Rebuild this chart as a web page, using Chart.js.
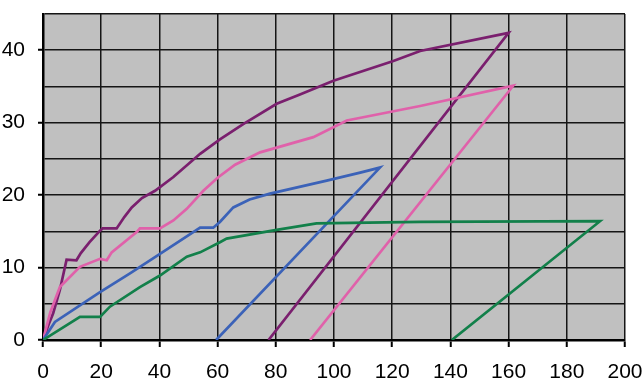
<!DOCTYPE html>
<html>
<head>
<meta charset="utf-8">
<script src="https://cdn.jsdelivr.net/npm/chart.js@4/dist/chart.umd.min.js"></script>
<style>
html,body{margin:0;padding:0;background:#fff;overflow:hidden;}
#wrap{width:643px;height:389px;}
</style>
</head>
<body>
<div id="wrap"><canvas id="c" width="643" height="389"></canvas></div>
<script>
const xTicks = [0, 20, 40, 60, 80, 100, 120, 140, 160, 180, 200];
const yTicks = [0, 10, 20, 30, 40];

const purpleX = [0, 2, 3.5, 5.8, 8.1, 11.5, 13, 16, 19.6, 20.5, 25.3, 28, 30.5, 34, 38.5, 44.8, 54, 60.8, 68.8, 80.3, 88.3, 99.8, 120.4, 129.6, 160, 77.5];
const purpleY = [0, 2.2, 3.7, 6.9, 11.1, 11, 12, 13.5, 15.1, 15.4, 15.4, 17, 18.3, 19.6, 20.6, 22.5, 25.7, 27.7, 29.8, 32.6, 33.9, 35.8, 38.5, 39.9, 42.4, 0];

const pinkX = [0, 2.5, 5.8, 12.7, 19.6, 21.9, 23.6, 32.2, 33.3, 40.2, 44.8, 49.4, 55.1, 60, 66, 74.6, 92.9, 104.4, 129.6, 161.6, 91.8];
const pinkY = [0, 3.8, 7.3, 10.1, 11.2, 11, 12.1, 14.9, 15.4, 15.4, 16.5, 18.1, 20.6, 22.4, 24.2, 25.9, 28, 30.3, 32.3, 35.1, 0];

const blueX = [0, 4.1, 19.6, 29.9, 40.2, 54, 58.5, 60.8, 65.4, 71, 78, 97.5, 109, 115.8, 59.5];
const blueY = [0, 2.5, 6.6, 9.2, 11.9, 15.5, 15.5, 16.3, 18.3, 19.4, 20.2, 22, 23.1, 23.8, 0];

const greenX = [0, 12.7, 19.6, 23, 33.3, 40.2, 49.4, 54, 60.8, 63.1, 80.3, 94, 129.6, 191.4, 140.5];
const greenY = [0, 3.2, 3.2, 4.6, 7.3, 8.9, 11.5, 12.1, 13.5, 14, 15.2, 16.1, 16.3, 16.4, 0];

function pts(xs, ys){ return xs.map((x,i)=>({x:x, y:ys[i]})); }

const bgPlugin = {
  id: 'plotBg',
  beforeDraw(chart){
    const a = chart.chartArea, ctx = chart.ctx;
    ctx.save();
    ctx.fillStyle = '#C0C0C0';
    ctx.fillRect(a.left, a.top, a.right - a.left, a.bottom - a.top);
    ctx.restore();
  }
};

const font = {family: "'Liberation Sans', Arial, sans-serif", size: 21};

function ds(data, color){
  return {data: data, borderColor: color, backgroundColor: color, borderWidth: 2.7,
          showLine: true, pointRadius: 0, tension: 0, fill: false};
}

new Chart(document.getElementById('c'), {
  type: 'scatter',
  data: {
    datasets: [
      ds(pts(greenX, greenY), '#12804A'),
      ds(pts(blueX, blueY), '#3B62B8'),
      ds(pts(pinkX, pinkY), '#E061AA'),
      ds(pts(purpleX, purpleY), '#7A1F6E')
    ]
  },
  plugins: [bgPlugin],
  options: {
    responsive: false,
    animation: false,
    devicePixelRatio: 1,
    layout: {padding: {left: 0, top: 14, right: 18, bottom: 0}},
    plugins: {legend: {display: false}, tooltip: {enabled: false}},
    scales: {
      x: {
        type: 'linear', min: xTicks[0], max: xTicks[xTicks.length-1],
        afterBuildTicks(s){ s.ticks = xTicks.map(v=>({value:v})); },
        afterFit(s){ s.height = 49; s.paddingLeft = 0; s.paddingRight = 0; },
        ticks: {font: font, color: '#000', padding: 13, maxRotation: 0, autoSkip: false},
        grid: {color: '#151515', lineWidth: 1.5, tickLength: 7, tickColor: '#000', tickWidth: 2},
        border: {color: '#000', width: 2.5}
      },
      y: {
        type: 'linear', min: 0, max: 45,
        afterBuildTicks(s){ const t=[]; for(let v=0; v<=45; v+=5) t.push({value:v}); s.ticks = t; },
        afterFit(s){ s.width = 43; s.paddingTop = 0; s.paddingBottom = 0; },
        ticks: {font: font, color: '#000', padding: 13, autoSkip: false,
                callback: (v)=> yTicks.includes(v) ? String(v) : ''},
        grid: {color: '#151515', lineWidth: 1.5, tickLength: 5, tickWidth: 2,
               tickColor: (c)=> (c.tick && yTicks.includes(c.tick.value)) ? '#000' : 'rgba(0,0,0,0)'},
        border: {color: '#000', width: 2.5}
      }
    }
  }
});
</script>
</body>
</html>
